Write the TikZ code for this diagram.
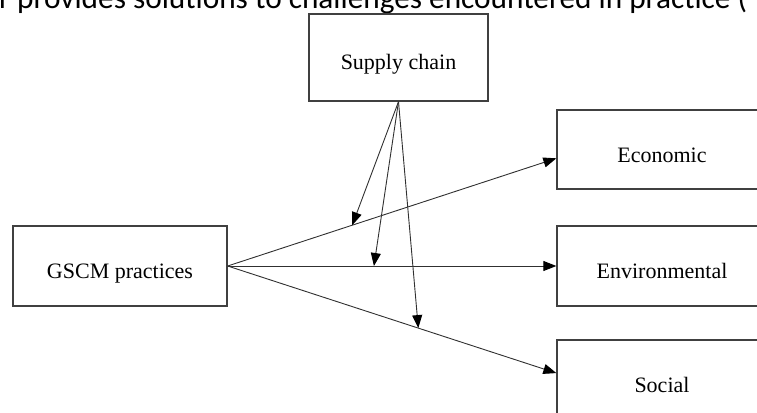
\documentclass[tikz,border=0pt]{standalone}
\usepackage{fontspec}
\setmainfont{Liberation Serif}
\newfontfamily\topfont{Carlito}
\usetikzlibrary{arrows.meta,calc}
\definecolor{boxgray}{HTML}{404040}
\definecolor{linegray}{HTML}{303030}
\begin{document}
\begin{tikzpicture}[x=1pt,y=-1pt,
  box/.style={draw=boxgray, line width=1.3pt, inner sep=0pt},
  lbl/.style={font=\fontsize{22}{26}\selectfont, anchor=base, inner sep=0pt},
  conn/.style={draw=linegray, line width=0.9pt},
  arr/.style={conn, -{Triangle[length=13pt,width=10pt,color=black]}}]
\useasboundingbox (0,0) rectangle (757,412);
\clip (0,0) rectangle (757,412);
% partial caption line at top
\node[anchor=base west, inner sep=0pt, font=\topfont\fontsize{31.3}{37}\selectfont] (cap) at (-1,9) {r provides solutions to challenges encountered in practice (};
% boxes
\node[box, minimum width=179pt, minimum height=87pt] (sc) at (398.5,57.5) {};
\node[box, minimum width=214pt, minimum height=80pt] (gs) at (120,266) {};
\node[box, minimum width=210pt, minimum height=79pt] (eco) at (662,149.5) {};
\node[box, minimum width=210pt, minimum height=80pt] (env) at (662,266) {};
\node[box, minimum width=210pt, minimum height=79pt] (soc) at (662,379.5) {};
% labels
\node[lbl] (scl) at (398.5,70) {Supply chain};
\node[lbl] (gsl) at (120,278) {GSCM practices};
\node[lbl] (ecol) at (662,162) {Economic};
\node[lbl] (envl) at (662,278) {Environmental};
\node[lbl] (socl) at (662,392) {Social};
% entry points
\coordinate (ecoin) at ($(eco.north west)!0.61!(eco.south west)$);
\coordinate (envin) at (env.west);
\coordinate (socin) at ($(soc.north west)!0.42!(soc.south west)$);
% main arrows
\draw[arr] (gs.east) -- (ecoin);
\draw[arr] (gs.east) -- (envin);
\draw[arr] (gs.east) -- (socin);
% moderating arrows
\draw[arr] (sc.south) -- ($(gs.east)!0.379!(ecoin)$);
\draw[arr] (sc.south) -- ($(gs.east)!0.445!(envin)$);
\draw[arr] (sc.south) -- ($(gs.east)!0.58!(socin)$);
\end{tikzpicture}
\end{document}
